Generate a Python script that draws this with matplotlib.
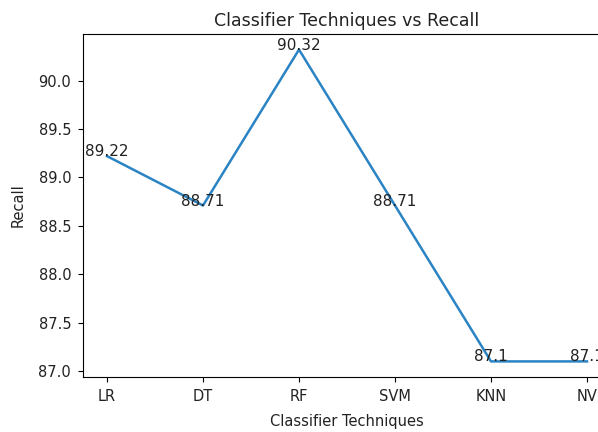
import matplotlib
matplotlib.use("Agg")
import matplotlib.pyplot as plt

techniques = ["LR", "DT", "RF", "SVM", "KNN", "NV"]
recall = [89.22, 88.71, 90.32, 88.71, 87.1, 87.1]

fig = plt.figure(figsize=(5.98, 4.32), dpi=100)
# axes runs past the right edge, as in the cropped original
ax = fig.add_axes([83 / 598, 1 - 377 / 432, 528 / 598, 343 / 432])
ax.plot(techniques, recall, color="#2a84c4", lw=1.8)
for i, v in enumerate(recall):
    ax.text(i, v, str(v), ha="center", fontsize=11, color="#222222")

ax.set_title("Classifier Techniques vs Recall", fontsize=12.5, color="#222222")
ax.set_xlabel("Classifier Techniques", fontsize=10.5, labelpad=7, color="#222222")
ax.set_ylabel("Recall", fontsize=10.5, labelpad=9, color="#222222")
ax.tick_params(labelsize=10.5, labelcolor="#222222", pad=5)

fig.savefig("out.png", dpi=100)
